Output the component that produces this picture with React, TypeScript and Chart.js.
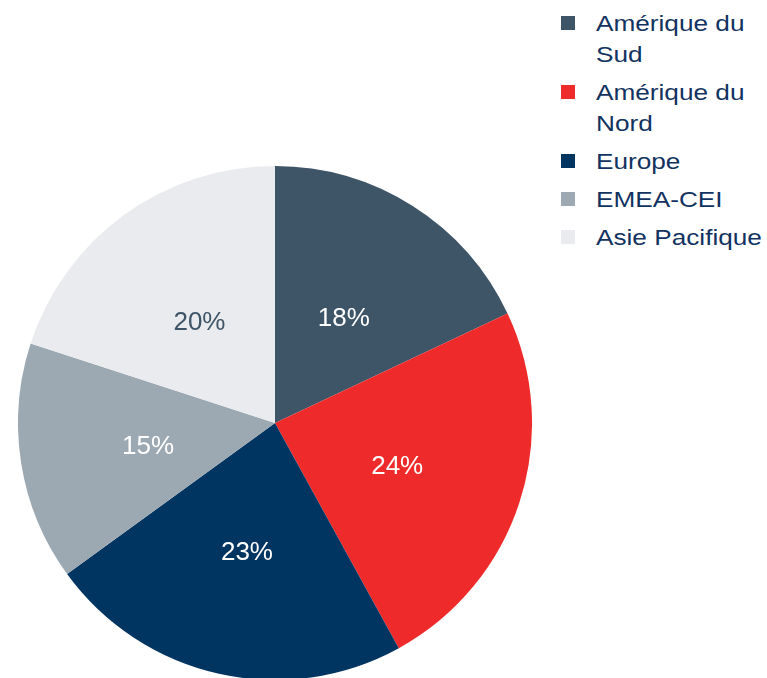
import React, { useEffect, useRef } from "react";
import { Chart, registerables } from "chart.js";

Chart.register(...registerables);

const regions: string[] = ["Amérique du Sud", "Amérique du Nord", "Europe", "EMEA-CEI", "Asie Pacifique"];
const legendLines: string[][] = [["Amérique du", "Sud"], ["Amérique du", "Nord"], ["Europe"], ["EMEA-CEI"], ["Asie Pacifique"]];
const shares: number[] = [18, 24, 23, 15, 20];
const sliceColors: string[] = ["#3E5467", "#EE2B2A", "#003461", "#9DA9B2", "#E9EBEE"];
const labelColors: string[] = ["#FFFFFF", "#FFFFFF", "#FFFFFF", "#FFFFFF", "#3E5467"];

const FONT = "'Liberation Sans', Arial, Helvetica, sans-serif";
const TEXT_NAVY = "#12335F";

const sliceLabelPlugin = {
  id: "sliceLabels",
  afterDatasetsDraw(chart: any) {
    const ctx = chart.ctx;
    const meta = chart.getDatasetMeta(0);
    ctx.save();
    ctx.font = `26px ${FONT}`;
    ctx.textAlign = "center";
    ctx.textBaseline = "middle";
    meta.data.forEach((arc: any, i: number) => {
      const p = arc.tooltipPosition();
      ctx.fillStyle = labelColors[i];
      ctx.fillText(`${shares[i]}%`, p.x, p.y + 4);
    });
    ctx.restore();
  },
};

export default function App() {
  const ref = useRef<HTMLCanvasElement | null>(null);

  useEffect(() => {
    if (!ref.current) return;
    const chart = new Chart(ref.current, {
      type: "pie",
      data: {
        labels: regions,
        datasets: [
          {
            data: shares,
            backgroundColor: sliceColors,
            borderWidth: 0,
          },
        ],
      },
      options: {
        responsive: false,
        animation: false,
        layout: { padding: 0 },
        plugins: {
          legend: { display: false },
          tooltip: { enabled: false },
        },
      },
      plugins: [sliceLabelPlugin],
    });
    return () => chart.destroy();
  }, []);

  return (
    <div
      style={{
        position: "fixed",
        left: 0,
        top: 0,
        width: 767,
        height: 678,
        overflow: "hidden",
        background: "#FFFFFF",
        fontFamily: FONT,
      }}
    >
      <canvas
        ref={ref}
        width={514}
        height={514}
        style={{ position: "absolute", left: 18, top: 166, width: 514, height: 514 }}
      />
      <div style={{ position: "absolute", left: 560, top: 8 }}>
        {legendLines.map((lines, i) => (
          <div key={regions[i]} style={{ position: "relative", marginBottom: 7 }}>
            <div
              style={{
                position: "absolute",
                left: 1,
                top: 8,
                width: 14,
                height: 14,
                background: sliceColors[i],
              }}
            />
            <div
              style={{
                marginLeft: 36,
                fontSize: 22,
                lineHeight: "31px",
                color: TEXT_NAVY,
                whiteSpace: "nowrap",
                transform: "scaleX(1.19)",
                transformOrigin: "left center",
              }}
            >
              {lines.map((l, j) => (
                <div key={j}>{l}</div>
              ))}
            </div>
          </div>
        ))}
      </div>
    </div>
  );
}
